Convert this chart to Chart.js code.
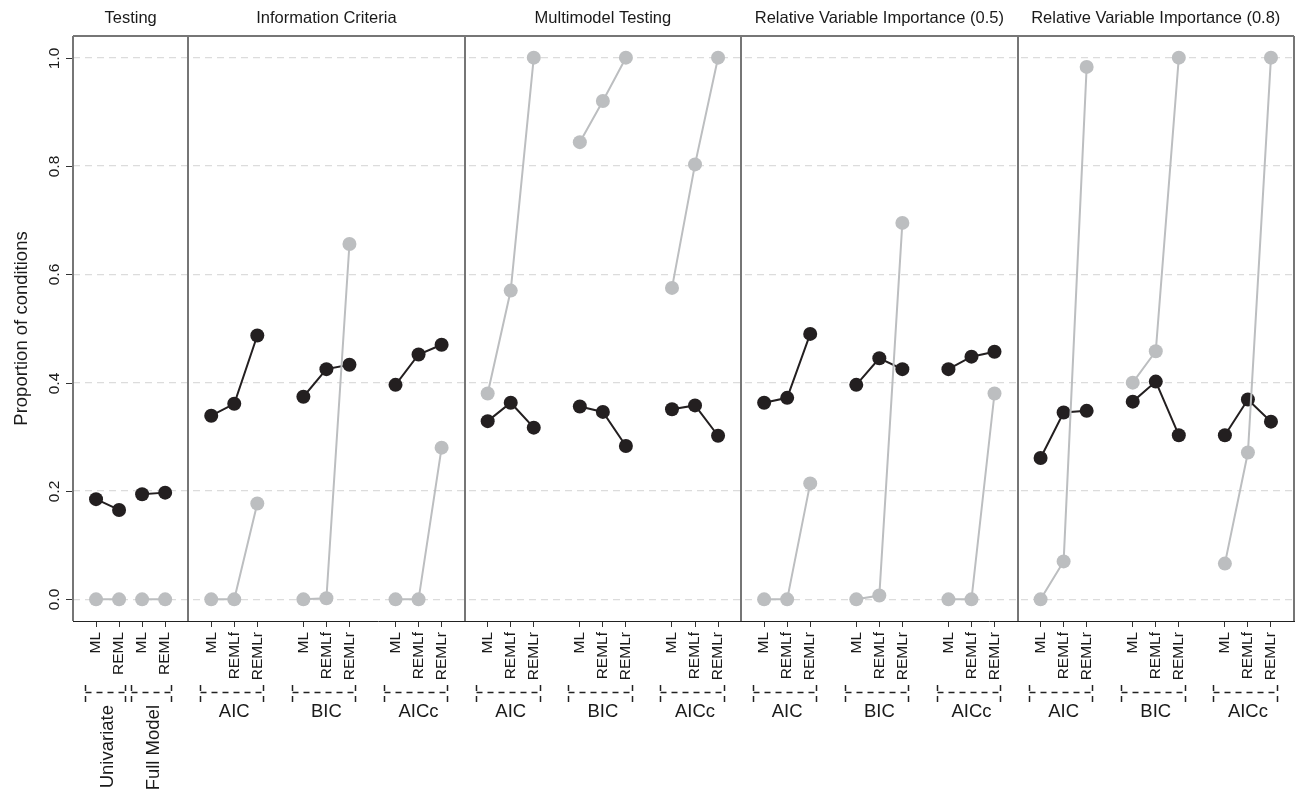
<!DOCTYPE html>
<html>
<head>
<meta charset="utf-8">
<script src="https://cdn.jsdelivr.net/npm/chart.js@4.4.1/dist/chart.umd.min.js"></script>
<style>
  html, body { margin: 0; padding: 0; background: #fff; }
</style>
</head>
<body>
<canvas id="chart" width="1296" height="794"></canvas>
<script>
// panels and groups
const panelTitles = ['Testing', 'Information Criteria', 'Multimodel Testing',
  'Relative Variable Importance (0.5)', 'Relative Variable Importance (0.8)'];
const testingGroups = ['Univariate', 'Full Model'];
const criterionGroups = ['AIC', 'BIC', 'AICc'];
const testingMethods = ['ML', 'REML'];
const criterionMethods = ['ML', 'REMLf', 'REMLr'];
const yTicks = [0, 0.2, 0.4, 0.6, 0.8, 1.0];

// proportion of conditions, one inner array per group (black / grey series)
const testingBlack = [[0.185, 0.165], [0.194, 0.197]];
const testingGrey = [[0, 0], [0, 0]];
const icBlack = [[0.339, 0.361, 0.487], [0.374, 0.425, 0.433], [0.396, 0.452, 0.470]];
const icGrey = [[0, 0, 0.177], [0, 0.002, 0.656], [0, 0, 0.280]];
const mmBlack = [[0.329, 0.363, 0.317], [0.356, 0.346, 0.283], [0.351, 0.358, 0.302]];
const mmGrey = [[0.380, 0.570, 1.0], [0.844, 0.920, 1.0], [0.575, 0.803, 1.0]];
const rvi5Black = [[0.363, 0.372, 0.490], [0.396, 0.445, 0.425], [0.425, 0.448, 0.457]];
const rvi5Grey = [[0, 0, 0.214], [0, 0.007, 0.695], [0, 0, 0.380]];
const rvi8Black = [[0.261, 0.345, 0.348], [0.365, 0.402, 0.303], [0.303, 0.369, 0.328]];
const rvi8Grey = [[0, 0.070, 0.983], [0.400, 0.458, 1.0], [0.066, 0.271, 1.0]];

const BLACK = '#231f20';
const GREY = '#bcbec0';
const FONT = '"Liberation Sans", Arial, Helvetica, sans-serif';
const TEXT = '#1a1a1a';

const panels = [
  { groups: testingGroups, methods: testingMethods, black: testingBlack, grey: testingGrey, width: 5, step: 2 },
  { groups: criterionGroups, methods: criterionMethods, black: icBlack, grey: icGrey, width: 12, step: 4 },
  { groups: criterionGroups, methods: criterionMethods, black: mmBlack, grey: mmGrey, width: 12, step: 4 },
  { groups: criterionGroups, methods: criterionMethods, black: rvi5Black, grey: rvi5Grey, width: 12, step: 4 },
  { groups: criterionGroups, methods: criterionMethods, black: rvi8Black, grey: rvi8Grey, width: 12, step: 4 }
];

// lay the panels side by side on one x scale
const blackPts = [], greyPts = [], tickValues = [], tickLabels = {}, groupSpans = [], panelSpans = [];
let start = 0;
panels.forEach((p, pi) => {
  panelSpans.push({ x0: start, x1: start + p.width, title: panelTitles[pi] });
  p.groups.forEach((g, gi) => {
    const xs = [];
    p.methods.forEach((m, mi) => {
      const x = start + 1 + gi * p.step + mi;
      xs.push(x);
      tickValues.push(x);
      tickLabels[x] = m;
      blackPts.push({ x, y: p.black[gi][mi] });
      greyPts.push({ x, y: p.grey[gi][mi] });
    });
    blackPts.push({ x: xs[xs.length - 1] + 0.5, y: null });
    greyPts.push({ x: xs[xs.length - 1] + 0.5, y: null });
    groupSpans.push({ x0: xs[0], x1: xs[xs.length - 1], label: g, rotated: pi === 0 });
  });
  start += p.width;
});

const facetPlugin = {
  id: 'facets',
  afterDraw(chart) {
    const ctx = chart.ctx;
    const xs = chart.scales.x, ys = chart.scales.y;
    const area = chart.chartArea;
    ctx.save();

    // y ticks and labels
    ctx.strokeStyle = '#333';
    ctx.lineWidth = 1;
    ctx.fillStyle = TEXT;
    ctx.font = '15.5px ' + FONT;
    yTicks.forEach(v => {
      const y = Math.round(ys.getPixelForValue(v)) + 0.5;
      ctx.beginPath();
      ctx.moveTo(area.left - 7, y);
      ctx.lineTo(area.left, y);
      ctx.stroke();
      ctx.save();
      ctx.translate(55, y);
      ctx.rotate(-Math.PI / 2);
      ctx.textAlign = 'center';
      ctx.textBaseline = 'middle';
      ctx.fillText(v.toFixed(1), 0, 0);
      ctx.restore();
    });

    // y title
    ctx.save();
    ctx.font = '18.5px ' + FONT;
    ctx.translate(22, (area.top + area.bottom) / 2);
    ctx.rotate(-Math.PI / 2);
    ctx.textAlign = 'center';
    ctx.textBaseline = 'middle';
    ctx.fillText('Proportion of conditions', 0, 0);
    ctx.restore();

    // panel frames and titles
    ctx.strokeStyle = '#767676';
    ctx.lineWidth = 2;
    ctx.beginPath();
    ctx.moveTo(area.left, area.top);
    ctx.lineTo(area.right, area.top);
    panelSpans.forEach(p => {
      const a = Math.round(xs.getPixelForValue(p.x0));
      const b = Math.round(xs.getPixelForValue(p.x1));
      ctx.moveTo(a, area.top);
      ctx.lineTo(a, area.bottom);
      ctx.moveTo(b, area.top);
      ctx.lineTo(b, area.bottom);
    });
    ctx.stroke();

    ctx.font = '16.5px ' + FONT;
    ctx.textAlign = 'center';
    ctx.textBaseline = 'middle';
    panelSpans.forEach(p => {
      const c = (xs.getPixelForValue(p.x0) + xs.getPixelForValue(p.x1)) / 2;
      ctx.fillText(p.title, c, 18);
    });

    // dashed group brackets and labels
    ctx.strokeStyle = '#222';
    ctx.lineWidth = 1.5;
    ctx.setLineDash([6, 5]);
    groupSpans.forEach(g => {
      const a = Math.round(xs.getPixelForValue(g.x0 - 0.5)) + 0.5;
      const b = Math.round(xs.getPixelForValue(g.x1 + 0.25)) + 0.5;
      ctx.beginPath();
      ctx.moveTo(a, 685); ctx.lineTo(a, 702);
      ctx.moveTo(b, 685); ctx.lineTo(b, 702);
      ctx.moveTo(a, 692.5); ctx.lineTo(b, 692.5);
      ctx.stroke();
    });
    ctx.setLineDash([]);
    ctx.font = '18.5px ' + FONT;
    groupSpans.forEach(g => {
      const c = (xs.getPixelForValue(g.x0) + xs.getPixelForValue(g.x1)) / 2;
      if (g.rotated) {
        ctx.save();
        ctx.translate(c, 705);
        ctx.rotate(-Math.PI / 2);
        ctx.textAlign = 'right';
        ctx.textBaseline = 'middle';
        ctx.fillText(g.label, 0, 0);
        ctx.restore();
      } else {
        ctx.textAlign = 'center';
        ctx.textBaseline = 'middle';
        ctx.fillText(g.label, c, 712);
      }
    });
    ctx.restore();
  }
};

new Chart(document.getElementById('chart'), {
  type: 'line',
  data: {
    datasets: [
      {
        data: greyPts,
        borderColor: GREY,
        backgroundColor: GREY,
        borderWidth: 2,
        pointRadius: 7,
        pointBorderWidth: 0,
        pointBackgroundColor: GREY,
        spanGaps: false
      },
      {
        data: blackPts,
        borderColor: BLACK,
        backgroundColor: BLACK,
        borderWidth: 2,
        pointRadius: 7,
        pointBorderWidth: 0,
        pointBackgroundColor: BLACK,
        spanGaps: false
      }
    ]
  },
  options: {
    responsive: false,
    animation: false,
    devicePixelRatio: 1,
    layout: { autoPadding: false, padding: { top: 36, right: 2, left: 0, bottom: 0 } },
    plugins: { legend: { display: false }, tooltip: { enabled: false } },
    scales: {
      x: {
        type: 'linear',
        min: 0,
        max: 53,
        afterBuildTicks: s => { s.ticks = tickValues.map(v => ({ value: v })); },
        afterFit: s => { s.height = 173; s.paddingLeft = 0; s.paddingRight = 0; },
        grid: { drawOnChartArea: false, drawTicks: true, tickLength: 6, color: '#333', lineWidth: 1 },
        border: { display: true, color: '#222', width: 1 },
        ticks: {
          autoSkip: false,
          minRotation: 90,
          maxRotation: 90,
          padding: 5,
          color: TEXT,
          font: { family: FONT, size: 15.5 },
          callback: v => tickLabels[v] || ''
        }
      },
      y: {
        min: -0.04,
        max: 1.04,
        afterBuildTicks: s => { s.ticks = yTicks.map(v => ({ value: v })); },
        afterFit: s => { s.width = 73; s.paddingTop = 0; s.paddingBottom = 0; },
        ticks: { display: false },
        grid: { color: '#dcdcdc', lineWidth: 1.2, drawTicks: false },
        border: { display: false, dash: [7, 5] }
      }
    }
  },
  plugins: [facetPlugin]
});
</script>
</body>
</html>
